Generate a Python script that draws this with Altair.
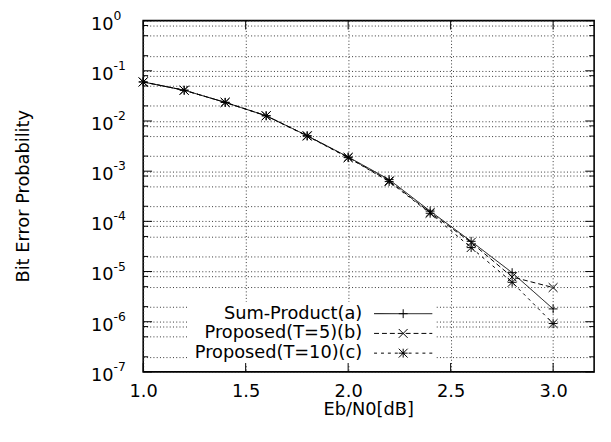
import altair as alt
import pandas as pd

# ---- data ----
ebn0 = [1.0, 1.2, 1.4, 1.6, 1.8, 2.0, 2.2, 2.4, 2.6, 2.8, 3.0]
ber_a = [6.0e-2, 4.1e-2, 2.35e-2, 1.27e-2, 5.1e-3, 1.92e-3, 6.8e-4, 1.6e-4, 4.0e-5, 9.5e-6, 1.8e-6]
ber_b = [6.0e-2, 4.1e-2, 2.35e-2, 1.27e-2, 5.1e-3, 1.88e-3, 6.4e-4, 1.5e-4, 3.8e-5, 7.8e-6, 4.8e-6]
ber_c = [6.0e-2, 4.1e-2, 2.35e-2, 1.27e-2, 5.0e-3, 1.86e-3, 6.2e-4, 1.45e-4, 3.0e-5, 6.1e-6, 9.2e-7]
series_names = ["Sum-Product(a)", "Proposed(T=5)(b)", "Proposed(T=10)(c)"]
x_ticks = [1.0, 1.5, 2.0, 2.5, 3.0]
y_exponents = [0, -1, -2, -3, -4, -5, -6, -7]
y_minor_mult = [0.8, 0.5, 0.2]
x_title = "Eb/N0[dB]"
y_title = "Bit Error Probability"

FONT = "DejaVu Sans"
FS = 18
W, H = 457, 356

plus = "M-1,0L1,0M0,-1L0,1"
xmark = "M-1,-1L1,1M-1,1L1,-1"
star = plus + xmark
shapes = [plus, xmark, star]
dashes = [[1, 0], [5, 3], [3, 4]]

rows = []
for name, vals in zip(series_names, [ber_a, ber_b, ber_c]):
    for x, v in zip(ebn0, vals):
        rows.append({"ebn0": x, "ber": v, "series": name})
df = pd.DataFrame(rows)

y_major = [10.0 ** e for e in y_exponents]
y_minor = [m * 10.0 ** e for e in y_exponents[:-1] for m in y_minor_mult]
grid_vals = sorted(y_major + y_minor, reverse=True)

xscale = alt.Scale(domain=[1.0, 3.2], nice=False, zero=False)
yscale = alt.Scale(type="log", domain=[1e-7, 1], nice=False)

grid_dash = [1, 2.3]
grid_color = "#333333"

AX = alt.Axis(values=x_ticks, format=".1f", ticks=False, tickSize=0, domain=False,
              labelFlush=False, labelPadding=11, labelFont=FONT, labelFontSize=FS,
              labelColor="black", grid=True, gridDash=grid_dash, gridColor=grid_color,
              gridWidth=1, title="")
AY = alt.Axis(values=grid_vals, labels=False, ticks=False, tickSize=0, domain=False,
              grid=True, gridDash=grid_dash, gridColor=grid_color, gridWidth=1, title="")

def X(field):
    return alt.X(field, scale=xscale, axis=AX)

def Y(field):
    return alt.Y(field, scale=yscale, axis=AY)

shape_enc = alt.Shape("series:N", scale=alt.Scale(domain=series_names, range=shapes), legend=None)
dash_enc = alt.StrokeDash("series:N", scale=alt.Scale(domain=series_names, range=dashes), legend=None)

base = alt.Chart(df)

lines = base.mark_line(color="black", strokeWidth=1).encode(
    x=X("ebn0:Q"), y=Y("ber:Q"), strokeDash=dash_enc, detail="series:N")

points = base.mark_point(filled=False, color="black", strokeWidth=1, size=81, opacity=1).encode(
    x=X("ebn0:Q"), y=Y("ber:Q"), shape=shape_enc)

# inward ticks
df_ymaj = pd.DataFrame({"v": y_major})
df_ymin = pd.DataFrame({"v": y_minor})
df_xt = pd.DataFrame({"v": x_ticks})

def yticks(d, length):
    left = alt.Chart(d).mark_rule(color="black", strokeWidth=1).encode(
        y=Y("v:Q"), x=alt.value(0), x2=alt.value(length))
    right = alt.Chart(d).mark_rule(color="black", strokeWidth=1).encode(
        y=Y("v:Q"), x=alt.value(W - length), x2=alt.value(W))
    return [left, right]

xt_bottom = alt.Chart(df_xt).mark_rule(color="black", strokeWidth=1).encode(
    x=X("v:Q"), y=alt.value(H - 9), y2=alt.value(H))
xt_top = alt.Chart(df_xt).mark_rule(color="black", strokeWidth=1).encode(
    x=X("v:Q"), y=alt.value(0), y2=alt.value(9))

# y tick labels 10^n
df_ylab = pd.DataFrame({"v": y_major, "exp": [str(e) for e in y_exponents]})
ylab_base = alt.Chart(df_ylab).transform_calculate(b="'10'").mark_text(
    align="right", baseline="middle", font=FONT, fontSize=FS, color="black", dy=4).encode(
    y=Y("v:Q"), x=alt.value(-30), text="b:N")
ylab_exp = alt.Chart(df_ylab).mark_text(
    align="left", baseline="middle", font=FONT, fontSize=12.5, color="black", dy=-5).encode(
    y=Y("v:Q"), x=alt.value(-30), text="exp:N")

# axis titles
dummy = pd.DataFrame({"k": [0]})
xt_text = alt.Chart(pd.DataFrame({"t": [x_title]})).mark_text(
    align="center", baseline="alphabetic", font=FONT, fontSize=FS, color="black").encode(
    x=alt.value(W / 2), y=alt.value(H + 44), text="t:N")
yt_text = alt.Chart(pd.DataFrame({"t": [y_title]})).mark_text(
    align="center", baseline="middle", font=FONT, fontSize=FS, color="black", angle=270).encode(
    x=alt.value(-121), y=alt.value(H / 2), text="t:N")

# legend (opaque key box)
legend_layers = [
    alt.Chart(dummy).mark_rect(color="white").encode(
        x=alt.value(45), x2=alt.value(296), y=alt.value(285), y2=alt.value(349))
]
for i, name in enumerate(series_names):
    yy = 297 + 20 * i
    legend_layers.append(alt.Chart(pd.DataFrame({"label": [name]})).mark_text(
        align="right", baseline="middle", font=FONT, fontSize=FS, color="black").encode(
        x=alt.value(222), y=alt.value(yy), text="label:N"))
    legend_layers.append(alt.Chart(dummy).mark_rule(
        color="black", strokeWidth=1, strokeDash=dashes[i]).encode(
        x=alt.value(234), x2=alt.value(293), y=alt.value(yy)))
    legend_layers.append(alt.Chart(dummy).mark_point(
        shape=shapes[i], size=81, filled=False, color="black", strokeWidth=1, opacity=1).encode(
        x=alt.value(263.5), y=alt.value(yy)))

chart = alt.layer(
    lines, *legend_layers, points,
    *yticks(df_ymaj, 9), *yticks(df_ymin, 5), xt_bottom, xt_top,
    ylab_base, ylab_exp, xt_text, yt_text,
).properties(
    width=W, height=H,
    autosize=alt.AutoSizeParams(type="none"),
    padding={"left": 137, "top": 10, "right": 9, "bottom": 50},
    background="white",
).configure_view(stroke="black", strokeWidth=1.6)

chart.save("out.html", embed_options={"renderer": "svg", "actions": False})
